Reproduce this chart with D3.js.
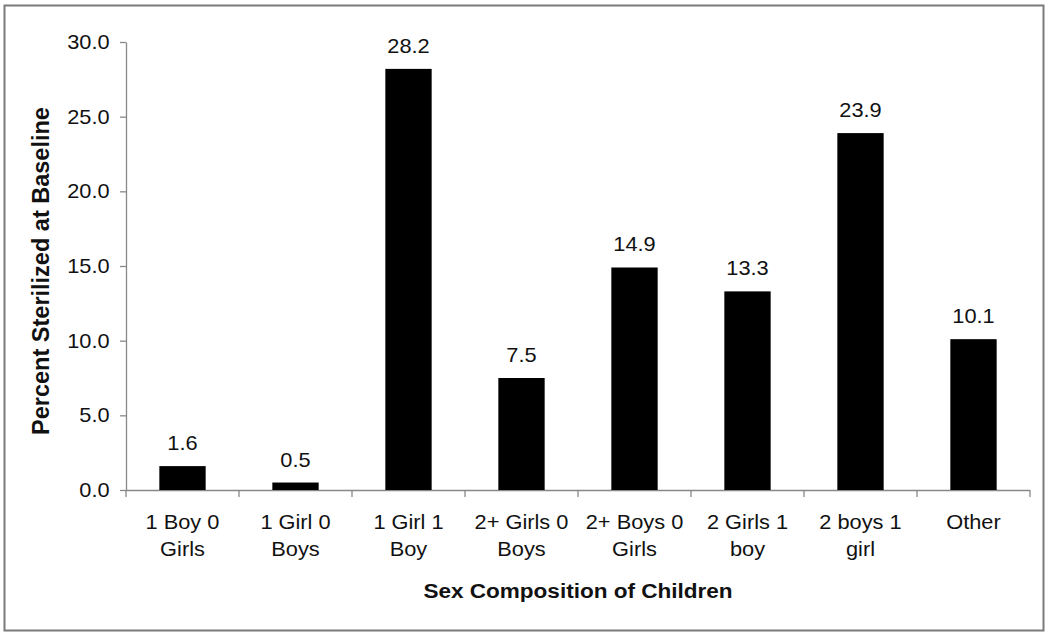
<!DOCTYPE html>
<html><head><meta charset="utf-8">
<script src="https://cdn.jsdelivr.net/npm/d3@7"></script>
<style>body{margin:0;background:#fff}svg{display:block}</style>
</head><body>
<svg id="c" width="1050" height="635"></svg>
<script>
const categories = [["1 Boy 0","Girls"],["1 Girl 0","Boys"],["1 Girl 1","Boy"],["2+ Girls 0","Boys"],["2+ Boys 0","Girls"],["2 Girls 1","boy"],["2 boys 1","girl"],["Other"]];
const values = [1.6, 0.5, 28.2, 7.5, 14.9, 13.3, 23.9, 10.1];
const yTicks = [0, 5, 10, 15, 20, 25, 30];
const xTitle = "Sex Composition of Children";
const yTitle = "Percent Sterilized at Baseline";

(function(){
const svg = d3.select("#c");
const font = "Arial, 'Liberation Sans', Helvetica, sans-serif";
const sx = 1.09;
svg.append("rect").attr("x",4.5).attr("y",5.5).attr("width",1039).attr("height",625)
  .attr("fill","#fff").attr("stroke","#7a7a7a").attr("stroke-width",2);

const pL = 126, pR = 1030, pT = 42, pB = 490;
const idx = categories.map((d,i)=>i);
const x = d3.scaleBand().domain(idx).range([pL,pR]).paddingInner(0.59).paddingOuter(0.295);
const xb = d3.scaleBand().domain(idx).range([pL,pR]);
const y = d3.scaleLinear().domain([0,30]).range([pB,pT]);

const ya = svg.append("g").attr("transform",`translate(${pL},0)`)
  .call(d3.axisLeft(y).tickValues(yTicks).tickFormat(d3.format(".1f")).tickSize(6).tickPadding(9).tickSizeOuter(0));
ya.select(".domain").attr("stroke","#888").attr("stroke-width",1.3);
ya.selectAll(".tick line").attr("stroke","#888").attr("stroke-width",1.3);
ya.selectAll("text").attr("font-family",font).attr("font-size",20).attr("fill","#111")
  .attr("transform",`scale(${sx},1)`);

const boundaries = idx.map(i=>xb(i)).concat([pR]);
svg.append("line").attr("x1",pL).attr("x2",pR).attr("y1",pB+0.5).attr("y2",pB+0.5)
  .attr("stroke","#888").attr("stroke-width",1.3);
svg.selectAll(".xt").data(boundaries).enter().append("line")
  .attr("x1",d=>d).attr("x2",d=>d).attr("y1",pB).attr("y2",pB+7)
  .attr("stroke","#888").attr("stroke-width",1.3);

svg.selectAll(".bar").data(values).enter().append("rect")
  .attr("x",(d,i)=>x(i)).attr("width",x.bandwidth())
  .attr("y",d=>y(d)).attr("height",d=>pB-y(d)).attr("fill","#000");

svg.selectAll(".vl").data(values).enter().append("text")
  .attr("transform",(d,i)=>`translate(${x(i)+x.bandwidth()/2},${y(d)-16}) scale(${sx},1)`)
  .attr("text-anchor","middle").attr("font-family",font).attr("font-size",20).attr("fill","#111")
  .text(d=>d.toFixed(1));

const cl = svg.selectAll(".cl").data(categories).enter().append("text")
  .attr("transform",(d,i)=>`translate(${xb(i)+xb.bandwidth()/2},529) scale(${sx},1)`)
  .attr("text-anchor","middle").attr("font-family",font).attr("font-size",20).attr("fill","#111");
cl.each(function(lines,i){
  const t = d3.select(this);
  lines.forEach((ln,j)=>{
    t.append("tspan").attr("x",0).attr("y",j*27.5).text(ln);
  });
});

svg.append("text").attr("transform",`translate(${(pL+pR)/2},598) scale(1.1,1)`).attr("text-anchor","middle")
  .attr("font-family",font).attr("font-size",20.5).attr("font-weight","bold").attr("fill","#111").text(xTitle);
svg.append("text").attr("transform",`translate(49,271) rotate(-90)`).attr("text-anchor","middle")
  .attr("font-family",font).attr("font-size",23.5).attr("font-weight","bold").attr("fill","#111").text(yTitle);
})();
</script>
</body></html>
